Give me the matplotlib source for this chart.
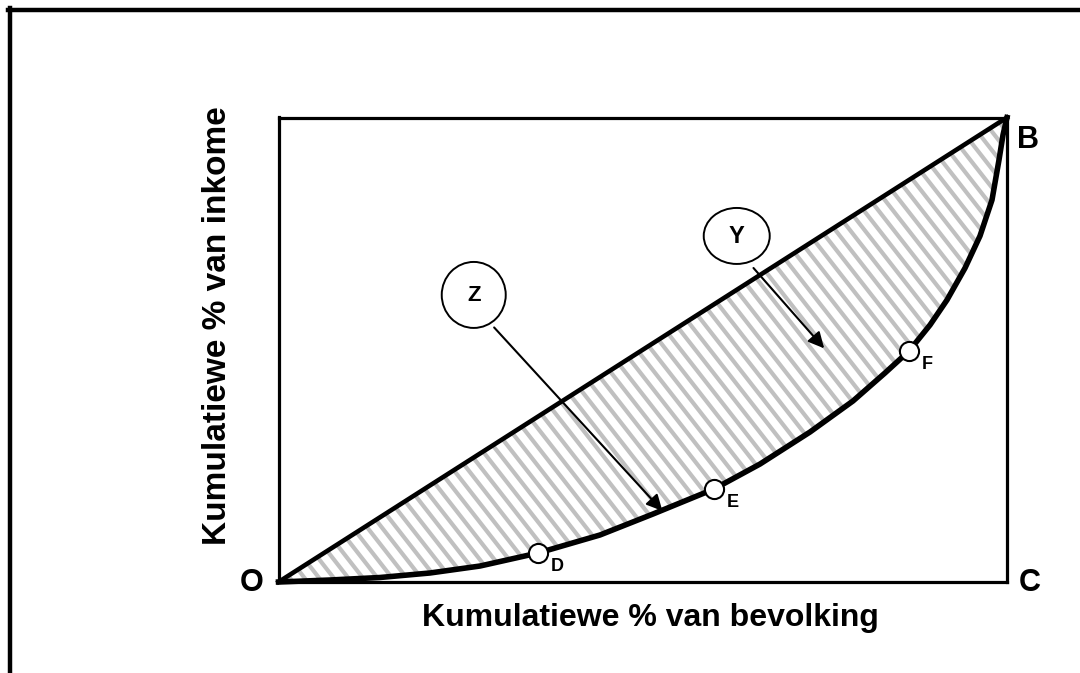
import numpy as np
import matplotlib
matplotlib.use("Agg")
import matplotlib.pyplot as plt
from matplotlib.patches import Ellipse, Polygon
from matplotlib.lines import Line2D

plt.rcParams['font.family'] = ['Liberation Sans', 'DejaVu Sans']
plt.rcParams['font.weight'] = 'bold'

# Lorenz curve (cumulative % population, cumulative % income)
curve_x = [0, 7.07, 13.93, 20.80, 27.66, 35.62, 44.13, 51.41, 59.78, 66.10,
           72.96, 78.86, 83.25, 86.55, 89.43, 91.76, 94.24, 96.29, 97.94,
           98.90, 99.45, 100]
curve_y = [0, 0.43, 0.97, 1.94, 3.44, 6.24, 10.12, 14.64, 20.02, 25.40,
           32.29, 38.97, 45.0, 49.73, 55.33, 60.71, 67.60, 74.49, 82.24,
           90.85, 96.23, 100]

# equality line
equal_x = [0, 100]
equal_y = [0, 100]

# marked points
pt_names = ['D', 'E', 'F']
pt_x = [35.62, 59.78, 86.55]
pt_y = [6.24, 20.02, 49.73]

W, H = 1080, 673
fig = plt.figure(figsize=(W / 100, H / 100), dpi=100)
ax = fig.add_axes([278.5 / W, 1 - 582 / H, 728.5 / W, 464.5 / H])
ax.set_xlim(0, 100)
ax.set_ylim(0, 100)
ax.set_xticks([])
ax.set_yticks([])
for sp in ax.spines.values():
    sp.set_linewidth(2.3)
    sp.set_capstyle('projecting')

# shaded area between equality line and curve
poly_x = equal_x + curve_x[::-1]
poly_y = equal_y + curve_y[::-1]
clip = Polygon(np.column_stack([poly_x, poly_y]), closed=True,
               facecolor='none', edgecolor='none')
ax.add_patch(clip)

# gray diagonal stripes
sx = 728.5 / 100.0
sy = 464.5 / 100.0
ang = np.radians(52)
xs = np.array([-5.0, 105.0])
for c in np.arange(0, 1400, 11.5):
    # sin(a)*xpx + cos(a)*ypx = c
    ys = (c - np.sin(ang) * sx * xs) / (np.cos(ang) * sy)
    ln, = ax.plot(xs, ys, color='#c0c0c0', lw=3.0, solid_capstyle='butt', zorder=1)
    ln.set_clip_path(clip)

ax.plot(equal_x, equal_y, color='black', lw=3.3, zorder=3, clip_on=False)
ax.plot(curve_x, curve_y, color='black', lw=4.0, zorder=3, clip_on=False,
        solid_joinstyle='round')

ax.scatter(pt_x, pt_y, s=190, facecolor='white', edgecolor='black',
           linewidth=1.5, zorder=5, clip_on=False)
for name, x, y in zip(pt_names, pt_x, pt_y):
    ax.annotate(name, (x, y), xytext=(13, -13), textcoords='offset pixels',
                fontsize=13, fontweight='bold', ha='left', va='center')

# corner labels
ax.text(-2.1, -0.3, 'O', fontsize=22, ha='right', va='center')
ax.text(101.6, -0.3, 'C', fontsize=22, ha='left', va='center')
ax.text(101.4, 95.2, 'B', fontsize=22, ha='left', va='center')

# circled labels with arrows
ax.add_patch(Ellipse((26.8, 61.8), 64 / sx, 66 / sy, facecolor='white',
                     edgecolor='black', lw=1.4, zorder=4))
ax.text(26.8, 61.6, 'Z', fontsize=16, ha='center', va='center', zorder=5)
ax.annotate('', xy=(52.7, 15.3), xytext=(29.6, 54.8),
            arrowprops=dict(arrowstyle='-|>', color='black', lw=1.5,
                            mutation_scale=24, shrinkA=0, shrinkB=0), zorder=4)

ax.add_patch(Ellipse((62.9, 74.5), 66 / sx, 56 / sy, facecolor='white',
                     edgecolor='black', lw=1.4, zorder=4))
ax.text(62.9, 74.3, 'Y', fontsize=17, ha='center', va='center', zorder=5)
ax.annotate('', xy=(74.9, 50.3), xytext=(65.2, 67.6),
            arrowprops=dict(arrowstyle='-|>', color='black', lw=1.5,
                            mutation_scale=24, shrinkA=0, shrinkB=0), zorder=4)

# axis titles
fig.text(650 / W, 1 - 618 / H, 'Kumulatiewe % van bevolking', fontsize=23,
         fontweight='bold', ha='center', va='center')
fig.text(217 / W, 1 - 326 / H, 'Kumulatiewe % van inkome', fontsize=24,
         fontweight='bold', ha='center', va='center', rotation=90)

# outer frame (left and top edges only)
fig.add_artist(Line2D([10 / W, 10 / W], [0, 1 - 8 / H], color='black',
                      lw=3.2, transform=fig.transFigure))
fig.add_artist(Line2D([8 / W, 1], [1 - 10 / H, 1 - 10 / H], color='black',
                      lw=3.2, transform=fig.transFigure))

fig.savefig('out.png', dpi=100)
